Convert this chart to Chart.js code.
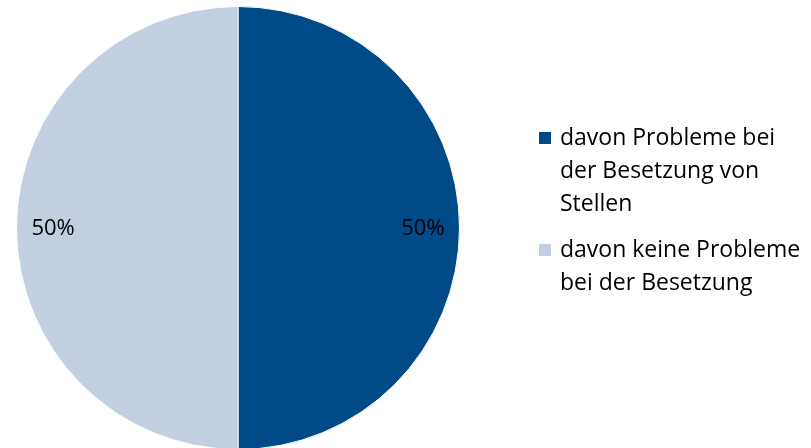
<!DOCTYPE html>
<html>
<head>
<meta charset="utf-8">
<script src="https://cdn.jsdelivr.net/npm/chart.js@4/dist/chart.umd.min.js"></script>
<style>
  html, body { margin: 0; padding: 0; background: #fff; overflow: hidden; }
  #wrap { position: relative; width: 811px; height: 456px; }
  #wrap canvas { position: absolute; left: 0; top: 0; }
  #legend {
    position: absolute; left: 539px; top: 120px; margin: 0; padding: 0;
    list-style: none; font-family: "Open Sans", sans-serif; font-size: 23px;
    line-height: 33px; color: #000; white-space: nowrap;
  }
  #legend li { display: flex; align-items: flex-start; margin-bottom: 13px; }
  #legend .box { width: 12px; height: 12px; margin-top: 12px; margin-right: 9px; flex: none; }
</style>
</head>
<body>
<div id="wrap">
  <canvas id="pie" width="811" height="456"></canvas>
  <ul id="legend"></ul>
</div>
<script>
// slices, clockwise from the top
var categories = [
  ['davon Probleme bei', 'der Besetzung von', 'Stellen'],
  ['davon keine Probleme', 'bei der Besetzung']
];
var values = [50, 50];
var colors = ['#004b87', '#c2cfe1'];

// percent labels inside the slices
var sliceLabels = {
  id: 'sliceLabels',
  afterDatasetsDraw: function(chart) {
    var ctx = chart.ctx;
    var total = values.reduce(function(a, b) { return a + b; }, 0);
    ctx.save();
    ctx.font = '22px "Open Sans", sans-serif';
    ctx.fillStyle = '#000';
    ctx.textAlign = 'center';
    ctx.textBaseline = 'middle';
    chart.getDatasetMeta(0).data.forEach(function(arc, i) {
      var p = arc.getProps(['x', 'y', 'startAngle', 'endAngle', 'outerRadius'], true);
      var mid = (p.startAngle + p.endAngle) / 2;
      var r = p.outerRadius * 0.835;
      var txt = Math.round(values[i] * 100 / total) + '%';
      ctx.fillText(txt, p.x + Math.cos(mid) * r, p.y + Math.sin(mid) * r + 1);
    });
    ctx.restore();
  }
};

var chart = new Chart(document.getElementById('pie').getContext('2d'), {
  type: 'pie',
  data: {
    labels: categories,
    datasets: [{
      data: values,
      backgroundColor: colors,
      borderColor: '#ffffff',
      borderWidth: 1
    }]
  },
  options: {
    responsive: false,
    animation: false,
    layout: { padding: { left: 16, top: 6, right: 351, bottom: 6 } },
    plugins: {
      legend: { display: false },
      tooltip: { enabled: false }
    }
  },
  plugins: [sliceLabels]
});

// html legend, built from the chart's own legend items
var ul = document.getElementById('legend');
chart.options.plugins.legend.labels.generateLabels(chart).forEach(function(item) {
  var li = document.createElement('li');
  var box = document.createElement('span');
  box.className = 'box';
  box.style.background = item.fillStyle;
  var txt = document.createElement('span');
  txt.innerHTML = categories[item.index].join('<br>');
  li.appendChild(box);
  li.appendChild(txt);
  ul.appendChild(li);
});
</script>
</body>
</html>
